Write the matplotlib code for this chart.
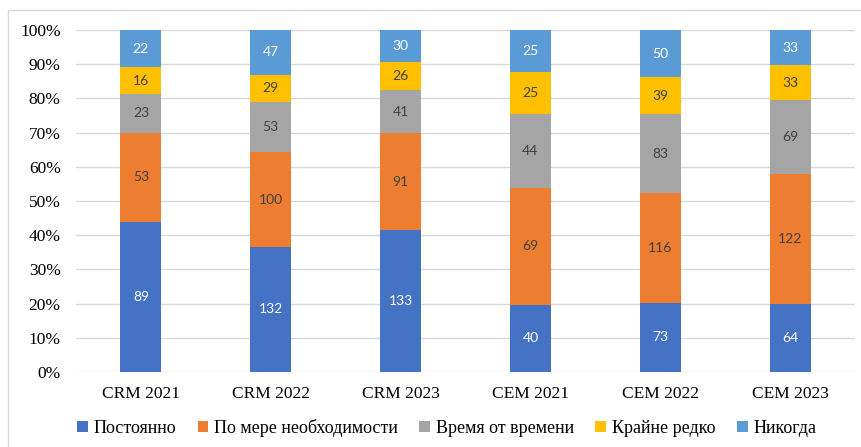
import matplotlib.pyplot as plt
import numpy as np
from matplotlib.patches import Rectangle

# Данные по категориям
categories = ['CRM 2021', 'CRM 2022', 'CRM 2023', 'CEM 2021', 'CEM 2022', 'CEM 2023']
series_names = ['Постоянно', 'По мере необходимости', 'Время от времени', 'Крайне редко', 'Никогда']
postoyanno = [89, 132, 133, 40, 73, 64]
po_mere = [53, 100, 91, 69, 116, 122]
vremya = [23, 53, 41, 44, 83, 69]
redko = [16, 29, 26, 25, 39, 33]
nikogda = [22, 47, 30, 25, 50, 33]

colors = ['#4472C4', '#ED7D31', '#A5A5A5', '#FFC000', '#5B9BD5']
text_colors = ['white', '#404040', '#404040', '#404040', 'white']

data = np.array([postoyanno, po_mere, vremya, redko, nikogda], dtype=float)
totals = data.sum(axis=0)
shares = data / totals

fig = plt.figure(figsize=(8.62, 4.47), dpi=100)
ax = fig.add_axes([76 / 862, 1 - 372 / 447, (855 - 76) / 862, (372 - 30) / 447])

# рамка вокруг диаграммы
fig.patches.append(Rectangle((8 / 862, -0.1), 1.2, 1 - 10 / 447 + 0.1,
                             transform=fig.transFigure, fill=False,
                             edgecolor='#D9D9D9', linewidth=1))

x = np.arange(len(categories))
bottom = np.zeros(len(categories))
for i in range(len(series_names)):
    bars = ax.bar(x, shares[i], 0.316, bottom=bottom, color=colors[i],
                  label=series_names[i], zorder=3)
    for j, b in enumerate(bars):
        ax.text(b.get_x() + b.get_width() / 2, bottom[j] + shares[i][j] / 2,
                str(int(data[i][j])), ha='center', va='center',
                color=text_colors[i], fontsize=10, family='Lato', zorder=4)
    bottom += shares[i]

ax.set_xlim(-0.5, len(categories) - 0.5)
ax.set_ylim(0, 1)
ax.set_yticks(np.arange(0, 1.01, 0.1))
ax.set_yticklabels([f'{int(round(v * 100))}%' for v in np.arange(0, 1.01, 0.1)],
                   family='Liberation Serif', fontsize=12.5)
ax.set_xticks(x)
ax.set_xticklabels(categories, family='Liberation Serif', fontsize=12.5)
ax.tick_params(axis='both', length=0)
ax.tick_params(axis='y', pad=11)
ax.tick_params(axis='x', pad=10)
ax.grid(axis='y', color='#D9D9D9', linewidth=1, zorder=0)
for s in ['top', 'right', 'left', 'bottom']:
    ax.spines[s].set_visible(False)

fig.legend(loc='center', bbox_to_anchor=(0.518, 1 - 428 / 447), ncol=5,
           frameon=False, prop={'family': 'Liberation Serif', 'size': 13},
           handlelength=0.6, handleheight=0.6, handletextpad=0.3,
           columnspacing=1.2)

fig.savefig('out.png', dpi=100)
